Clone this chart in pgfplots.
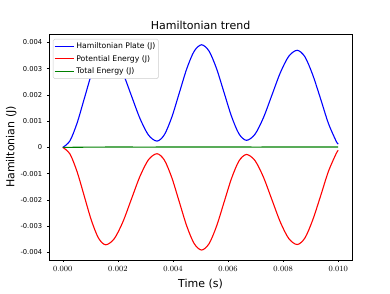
\documentclass[border=0pt]{standalone}
\usepackage{pgfplots}
\pgfplotsset{compat=1.18}
\usepackage{pgfplotstable}
\usepackage{fontspec}
\newfontfamily\dejavu{DejaVu Sans}
\definecolor{mplgreen}{RGB}{0,128,0}
\pgfplotstableread{
t v
0 0
0.00026 0.000249
0.00052 0.000928
0.00078 0.001855
0.00104 0.002783
0.00130 0.003461
0.00156 0.00371
0.00187 0.003478
0.00218 0.002843
0.00249 0.001975
0.00280 0.001108
0.00311 0.000472
0.00342 0.00024
0.00369 0.000486
0.00396 0.001158
0.00423 0.002075
0.00450 0.002993
0.00477 0.003664
0.00504 0.00391
0.005312 0.003666
0.005583 0.00300
0.005855 0.00209
0.006127 0.00118
0.006398 0.000514
0.00667 0.00027
0.006977 0.0005
0.007283 0.001128
0.00759 0.001985
0.007897 0.002843
0.008203 0.00347
0.00851 0.0037
0.00879 0.003452
0.00907 0.002775
0.00936 0.00185
0.00964 0.000925
0.00992 0.000248
0.0100 0.000126
}\hamil
\pgfplotstableread{
t v
0 0
0.00026 -0.000249
0.00052 -0.000928
0.00078 -0.001855
0.00104 -0.002783
0.00130 -0.003461
0.00156 -0.00371
0.00187 -0.003478
0.00218 -0.002843
0.00249 -0.001975
0.00280 -0.001108
0.00311 -0.000472
0.00342 -0.00024
0.00369 -0.000486
0.00396 -0.001158
0.00423 -0.002075
0.00450 -0.002993
0.00477 -0.003664
0.00504 -0.00391
0.005312 -0.003666
0.005583 -0.00300
0.005855 -0.00209
0.006127 -0.00118
0.006398 -0.000514
0.00667 -0.00027
0.006977 -0.0005
0.007283 -0.001128
0.00759 -0.001985
0.007897 -0.002843
0.008203 -0.00347
0.00851 -0.0037
0.00879 -0.003452
0.00907 -0.002775
0.00936 -0.00185
0.00964 -0.000925
0.00992 -0.000248
0.0100 -0.000110
}\potential
\pgfplotstableread{
t v
0 0
0.001 0.000010
0.002 0.000015
0.003 0.000012
0.004 0.000016
0.005 0.000014
0.006 0.000017
0.007 0.000013
0.008 0.000016
0.009 0.000014
0.010 0.000016
}\total
\begin{document}
\begin{tikzpicture}
\useasboundingbox (-49pt,-33pt) rectangle (341pt,260pt);
\begin{axis}[
  scale only axis, width=303pt, height=226pt,
  xmin=-0.0005, xmax=0.0105, ymin=-0.00429, ymax=0.00432,
  scaled ticks=false,
  xtick={0,0.002,0.004,0.006,0.008,0.010},
  xticklabels={0.000,0.002,0.004,0.006,0.008,0.010},
  ytick={-0.004,-0.003,-0.002,-0.001,0,0.001,0.002,0.003,0.004},
  yticklabels={-0.004,-0.003,-0.002,-0.001,0,0.001,0.002,0.003,0.004},
  tick align=outside, tick pos=left, major tick length=2.2pt,
  tick style={line width=0.5pt, black},
  axis line style={line width=0.5pt},
  xticklabel style={font=\fontsize{8}{9}\selectfont, yshift=0pt},
  yticklabel style={font=\dejavu\fontsize{6.75}{8}\selectfont, xshift=-1pt},
  title={Hamiltonian trend},
  title style={font=\dejavu\fontsize{11}{13}\selectfont, at={(0.5,1)}, anchor=base, yshift=-1pt},
  xlabel={Time (s)},
  xlabel style={font=\dejavu\fontsize{11}{13}\selectfont, at={(0.5,0)}, anchor=base, yshift=-27.5pt},
  ylabel={Hamiltonian (J)},
  ylabel style={font=\dejavu\fontsize{11}{13}\selectfont},
  ylabel shift=-3pt,
  legend style={at={(0.0132,0.978)}, anchor=north west, font=\dejavu\fontsize{7.7}{9}\selectfont,
    draw=black!20, rounded corners=1.5pt, fill=white,
    inner xsep=1pt, inner ysep=1.8pt, row sep=0.9pt},
  legend cell align=left,
  legend image code/.code={\draw[#1, line width=1.1pt] (0pt,0pt) -- (19pt,0pt);},
]
\addplot[color=blue, line width=1.1pt, smooth] table[x=t,y=v] {\hamil};
\addlegendentry{Hamiltonian Plate (J)}
\addplot[color=red, line width=1.1pt, smooth] table[x=t,y=v] {\potential};
\addlegendentry{Potential Energy (J)}
\addplot[color=mplgreen, line width=1.1pt, smooth] table[x=t,y=v] {\total};
\addlegendentry{Total Energy (J)}
\end{axis}
\end{tikzpicture}
\end{document}
